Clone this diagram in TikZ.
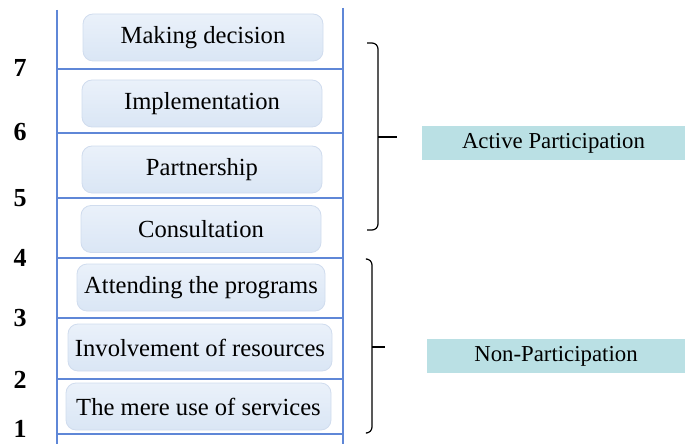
\documentclass[tikz,border=0pt]{standalone}
\usepackage{fontspec}
\setmainfont{Liberation Serif}
\usetikzlibrary{positioning}
\definecolor{rungblue}{RGB}{95,135,215}
\definecolor{stepfill}{RGB}{218,230,245}
\definecolor{steptop}{RGB}{234,241,250}
\definecolor{stepedge}{RGB}{208,220,238}
\definecolor{groupfill}{RGB}{186,224,228}

\tikzset{
  rung/.style={draw=rungblue, line width=0.7pt},
  stepbox/.style={rounded corners=5pt, draw=stepedge, top color=steptop,
    bottom color=stepfill, minimum height=23.5pt, inner sep=2pt,
    font=\fontsize{12.3}{14}\selectfont},
  num/.style={font=\fontsize{13}{15}\selectfont\bfseries, inner sep=1pt},
  group/.style={fill=groupfill, minimum height=17pt, inner sep=2pt,
    font=\fontsize{11.4}{13}\selectfont},
  bracket/.style={draw=black, line width=0.6pt, rounded corners=3pt}
}

\begin{document}
\begin{tikzpicture}[x=0.5pt, y=-0.5pt]
  \useasboundingbox (0,0) rectangle (685,444);

  % Ladder sides
  \coordinate (lt) at (57,10);
  \coordinate (lb) at (57,444);
  \coordinate (rt) at (343,8);
  \coordinate (rb) at (343,444);
  \draw[rung] (lt) -- (lb);
  \draw[rung] (rt) -- (rb);

  % Rungs and level numbers
  \foreach \n/\y/\t in {7/69/68,6/133/132,5/198/198,4/258/258,3/318/318,2/379/380,1/434/429} {
    \coordinate (l\n) at (57,\y);
    \coordinate (r\n) at (343,\y);
    \draw[rung] (l\n) -- (r\n);
    \node[num] (n\n) at (20,\t) {\n};
  }

  % Define nodes
  \node[stepbox, minimum width=120pt] (md)  at (203,37.5)  {Making decision};
  \node[stepbox, minimum width=120pt] (imp) at (202,103.5) {Implementation};
  \node[stepbox, minimum width=120pt] (par) at (202,169.5) {Partnership};
  \node[stepbox, minimum width=120pt] (con) at (201,229)   {Consultation};
  \node[stepbox, minimum width=124pt] (att) at (201,287.5) {Attending the programs};
  \node[stepbox, minimum width=132pt] (inv) at (200,347.5) {Involvement of resources};
  \node[stepbox, minimum width=132.5pt] (use) at (198.5,406.5) {The mere use of services};

  \node[group, minimum width=131.5pt] (act) at (553.5,143) {Active Participation};
  \node[group, minimum width=129pt]   (non) at (556,356)   {Non-Participation};

  % Brackets
  \coordinate (at) at (367,43);
  \coordinate (ab) at (367,230);
  \coordinate (am) at (397,137);
  \draw[bracket] (at) -- (378,43) -- (378,137) -- (378,230) -- (ab);
  \draw[bracket] (378,137) -- (am);

  \coordinate (nt) at (367,259);
  \coordinate (nb) at (367,433);
  \coordinate (nm) at (385,347);
  \draw[bracket] (nt) -- (372,259) -- (372,433) -- (nb);
  \draw[bracket] (372,347) -- (nm);
\end{tikzpicture}
\end{document}
